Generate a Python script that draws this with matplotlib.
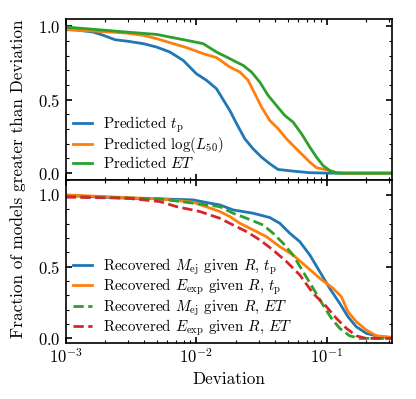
import numpy as np
import matplotlib
matplotlib.use("Agg")
import matplotlib.pyplot as plt
from matplotlib.ticker import AutoMinorLocator

plt.rcParams.update({
    "font.family": "serif",
    "font.serif": ["cmr10", "DejaVu Serif"],
    "mathtext.fontset": "cm",
    "axes.formatter.use_mathtext": True,
    "axes.linewidth": 1.2,
    "xtick.direction": "in",
    "ytick.direction": "in",
    "xtick.top": True,
    "ytick.right": True,
    "xtick.major.size": 4.5,
    "ytick.major.size": 4.5,
    "xtick.minor.size": 2.5,
    "ytick.minor.size": 2.5,
    "xtick.major.width": 1.2,
    "ytick.major.width": 1.2,
    "xtick.minor.width": 0.8,
    "ytick.minor.width": 0.8,
    "font.size": 12,
})

# ---------------- data (log10 deviation, fraction) ----------------
# Upper panel
tp_logx = [-3.0, -2.789, -2.712, -2.623, -2.521, -2.406, -2.304, -2.202, -2.100, -2.0,
           -1.921, -1.845, -1.743, -1.691, -1.628, -1.565, -1.50, -1.437, -1.373,
           -1.259, -1.13, -0.978, -0.503]
tp_frac = [0.984, 0.961, 0.939, 0.909, 0.898, 0.882, 0.859, 0.825, 0.768, 0.678,
           0.632, 0.575, 0.427, 0.337, 0.234, 0.166, 0.109, 0.064, 0.025,
           0.014, 0.003, 0.0, 0.0]

l50_logx = [-3.0, -2.789, -2.533, -2.406, -2.304, -2.202, -2.074, -1.947, -1.845, -1.743,
            -1.666, -1.603, -1.551, -1.50, -1.437, -1.373, -1.309, -1.246, -1.182,
            -1.13, -1.079, -1.003, -0.94, -0.86, -0.503]
l50_frac = [0.977, 0.968, 0.954, 0.939, 0.916, 0.889, 0.855, 0.814, 0.787, 0.723,
            0.689, 0.632, 0.541, 0.45, 0.359, 0.303, 0.234, 0.177, 0.121,
            0.075, 0.037, 0.023, 0.007, 0.0, 0.0]

et_logx = [-3.0, -2.789, -2.533, -2.304, -2.202, -2.074, -1.947, -1.845, -1.743, -1.718,
           -1.641, -1.577, -1.513, -1.45, -1.386, -1.322, -1.259, -1.194, -1.13,
           -1.079, -1.029, -0.978, -0.92, -0.503]
et_frac = [0.995, 0.98, 0.961, 0.945, 0.927, 0.905, 0.882, 0.825, 0.780, 0.768,
           0.734, 0.689, 0.62, 0.53, 0.461, 0.393, 0.348, 0.269, 0.177,
           0.109, 0.052, 0.018, 0.0, 0.0]

# Lower panel
mej_tp_logx = [-3.0, -2.533, -2.278, -2.024, -1.896, -1.82, -1.718, -1.565, -1.437, -1.36,
               -1.284, -1.207, -1.13, -1.054, -0.978, -0.901, -0.838, -0.774, -0.697,
               -0.595, -0.503]
mej_tp_frac = [0.995, 0.977, 0.972, 0.965, 0.942, 0.930, 0.895, 0.872, 0.842, 0.802,
               0.733, 0.674, 0.581, 0.465, 0.349, 0.244, 0.151, 0.081, 0.035,
               0.011, 0.005]

eexp_tp_logx = [-3.0, -2.533, -2.278, -2.024, -1.82, -1.743, -1.666, -1.565, -1.463, -1.36,
                -1.259, -1.156, -1.054, -0.952, -0.888, -0.838, -0.774, -0.697, -0.62,
                -0.503]
eexp_tp_frac = [1.0, 0.981, 0.972, 0.949, 0.884, 0.849, 0.802, 0.756, 0.709, 0.639,
                0.581, 0.5, 0.419, 0.349, 0.29, 0.186, 0.116, 0.058, 0.018,
                0.008]

mej_et_logx = [-3.0, -2.278, -2.024, -1.82, -1.718, -1.615, -1.488, -1.412, -1.335, -1.259,
               -1.182, -1.105, -1.029, -0.965, -0.901, -0.825, -0.75, -0.503]
mej_et_frac = [0.99, 0.972, 0.942, 0.918, 0.872, 0.837, 0.79, 0.733, 0.663, 0.581,
               0.465, 0.349, 0.232, 0.14, 0.07, 0.018, 0.0, 0.0]

eexp_et_logx = [-3.0, -2.533, -2.278, -2.151, -1.973, -1.82, -1.718, -1.615, -1.513, -1.412,
                -1.309, -1.207, -1.105, -1.003, -0.927, -0.85, -0.774, -0.70, -0.503]
eexp_et_frac = [0.984, 0.977, 0.953, 0.918, 0.884, 0.837, 0.79, 0.744, 0.686, 0.616,
                0.535, 0.442, 0.314, 0.221, 0.14, 0.07, 0.018, 0.0, 0.0]

upper_labels = [r"Predicted $t_\mathrm{p}$", r"Predicted $\log(L_{50})$", r"Predicted $ET$"]
lower_labels = [r"Recovered $M_\mathrm{ej}$ given $R$, $t_\mathrm{p}$",
                r"Recovered $E_\mathrm{exp}$ given $R$, $t_\mathrm{p}$",
                r"Recovered $M_\mathrm{ej}$ given $R$, $ET$",
                r"Recovered $E_\mathrm{exp}$ given $R$, $ET$"]

fig = plt.figure(figsize=(4.16, 3.99), dpi=100)
L, R = 65.7 / 416, 391.7 / 416
ax1 = fig.add_axes([L, 1 - 180.5 / 399, R - L, (180.5 - 19) / 399])
ax2 = fig.add_axes([L, 1 - 342.7 / 399, R - L, (342.7 - 180.5) / 399], sharex=ax1)

lw = 2.0
ax1.plot(10 ** np.array(tp_logx), tp_frac, color="C0", lw=lw, label=upper_labels[0])
ax1.plot(10 ** np.array(l50_logx), l50_frac, color="C1", lw=lw, label=upper_labels[1])
ax1.plot(10 ** np.array(et_logx), et_frac, color="C2", lw=lw, label=upper_labels[2])

ax2.plot(10 ** np.array(mej_tp_logx), mej_tp_frac, color="C0", lw=lw, label=lower_labels[0])
ax2.plot(10 ** np.array(eexp_tp_logx), eexp_tp_frac, color="C1", lw=lw, label=lower_labels[1])
ax2.plot(10 ** np.array(mej_et_logx), mej_et_frac, color="C2", lw=lw, ls="--", label=lower_labels[2])
ax2.plot(10 ** np.array(eexp_et_logx), eexp_et_frac, color="C3", lw=lw, ls="--", label=lower_labels[3])

ax2.set_xscale("log")
ax2.set_xlim(1e-3, 10 ** -0.503)
ax1.set_ylim(-0.05, 1.05)
ax2.set_ylim(-0.03, 1.10)
for ax in (ax1, ax2):
    ax.set_yticks([0.0, 0.5, 1.0])
    ax.yaxis.set_minor_locator(AutoMinorLocator(5))
    ax.tick_params(which="both", direction="in", top=True, right=True)
plt.setp(ax1.get_xticklabels(), visible=False)

leg_kw = dict(frameon=False, fontsize=10.8, handlelength=1.27, handletextpad=0.69,
              labelspacing=0.0, borderpad=0, borderaxespad=0, loc="lower left")
ax1.legend(bbox_to_anchor=(0.023, 0.06), **leg_kw)
ax2.legend(bbox_to_anchor=(0.023, 0.028), **leg_kw)

ax2.set_xlabel("Deviation", fontsize=12.4)
fig.text(18 / 416, 1 - 179 / 399, "Fraction of models greater than Deviation",
         rotation=90, ha="center", va="center", fontsize=12.4)

fig.savefig("out.png", dpi=100)
